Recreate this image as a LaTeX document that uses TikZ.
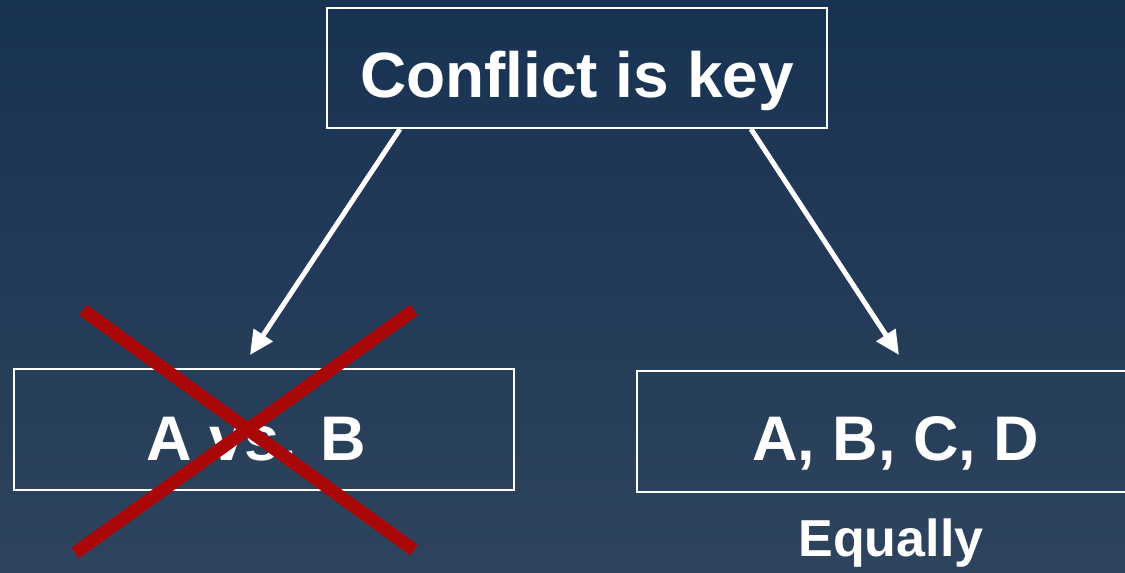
\documentclass[tikz,border=0pt]{standalone}
\usepackage{fontspec}
\setmainfont{Liberation Sans}
\usetikzlibrary{arrows.meta}
\definecolor{bgtop}{HTML}{183252}
\definecolor{bgbot}{HTML}{2E445E}
\definecolor{crossred}{HTML}{AA0808}
\tikzset{
  box/.style={draw=white, line width=2pt, inner sep=0pt},
  lbl/.style={text=white, font=\bfseries\fontsize{63}{70}\selectfont, anchor=base, inner sep=0pt},
  conn/.style={draw=white, line width=5pt, -{Triangle[length=24pt,width=22pt]}},
  cross/.style={draw=crossred, line width=13pt}
}
\begin{document}
\begin{tikzpicture}[x=1pt,y=-1pt]
\useasboundingbox (0,0) rectangle (1125,573);
\shade[top color=bgtop, bottom color=bgbot] (0,0) rectangle (1125,573);
\begin{scope}
\clip (0,0) rectangle (1125,573);
\node[box, minimum width=500pt, minimum height=120pt] (top) at (577,68) {};
\node[box, minimum width=500pt, minimum height=121pt] (left) at (264,429.5) {};
\node[box, minimum width=500pt, minimum height=121pt] (right) at (887,431.5) {};
\end{scope}
\node[lbl, font=\bfseries\fontsize{64}{70}\selectfont] (ttop) at (577,97) {Conflict is key};
\node[lbl] (tleft) at (256,460) {A vs. B};
\node[lbl] (tright) at (896,460) {A, B, C, D};
\node[lbl, font=\bfseries\fontsize{52}{60}\selectfont] (eq) at (891,556) {Equally};
\coordinate (s1) at (400,129);
\coordinate (e1) at (250,355);
\coordinate (s2) at (751,129);
\coordinate (e2) at (899,355);
\draw[conn] (s1) -- (e1);
\draw[conn] (s2) -- (e2);
\coordinate (c1) at (83,310);
\coordinate (c2) at (414,550);
\coordinate (c3) at (414,310);
\coordinate (c4) at (75,553);
\draw[cross] (c1) -- (c2);
\draw[cross] (c3) -- (c4);
\end{tikzpicture}
\end{document}
